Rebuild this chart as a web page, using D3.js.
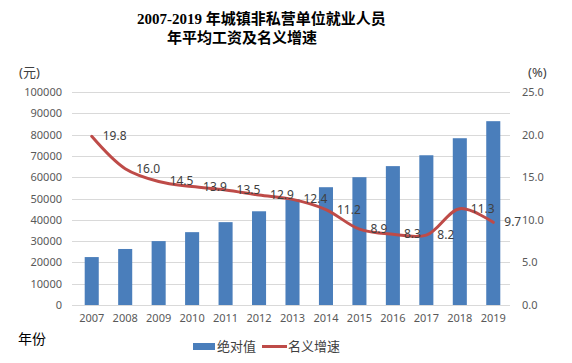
<!DOCTYPE html>
<html>
<head>
<meta charset="utf-8">
<script src="https://cdn.jsdelivr.net/npm/d3@7"></script>
<style>
  body { margin: 0; background: #fff; }
  svg text { font-family: "Noto Sans", "Noto Sans CJK SC", sans-serif; }
</style>
</head>
<body>
<div id="chart"></div>
<script>
// data
var years = ["2007","2008","2009","2010","2011","2012","2013","2014","2015","2016","2017","2018","2019"]
var wages = [22500, 26300, 30000, 34200, 38900, 44000, 49700, 55300, 60000, 65200, 70300, 78300, 86300]
var growth = [19.8, 16.0, 14.5, 13.9, 13.5, 12.9, 12.4, 11.2, 8.9, 8.3, 8.2, 11.3, 9.7]
var leftTicks = [0,10000,20000,30000,40000,50000,60000,70000,80000,90000,100000]
var rightTicks = [0,5,10,15,20,25]

var width = 572, height = 363
var margin = {top: 92, bottom: 58, left: 75, right: 62}

var svg = d3.select("#chart").append("svg")
  .attr("width", width)
  .attr("height", height)

var x = d3.scaleBand()
  .domain(years)
  .range([margin.left, width - margin.right])
  .paddingInner(0.58)
  .paddingOuter(0.29)

var y = d3.scaleLinear()
  .domain([0, 100000])
  .range([height - margin.bottom, margin.top])

var y2 = d3.scaleLinear()
  .domain([0, 25])
  .range([height - margin.bottom, margin.top])

// gridlines
svg.append("g")
  .selectAll("line")
  .data(leftTicks)
  .join("line")
  .attr("x1", margin.left - 3)
  .attr("x2", width - margin.right)
  .attr("y1", d => Math.round(y(d)) + 0.5)
  .attr("y2", d => Math.round(y(d)) + 0.5)
  .attr("stroke", "#d9d9d9")
  .attr("stroke-width", 1)

// left axis
var yAxis = svg.append("g")
  .attr("transform", `translate(${margin.left - 13},0)`)
  .call(d3.axisLeft(y).tickValues(leftTicks).tickFormat(d3.format("d")).tickSize(0).tickPadding(0))
yAxis.select(".domain").remove()
yAxis.selectAll("text").attr("font-size", "11px").attr("fill", "#595959")

// right axis
var y2Axis = svg.append("g")
  .attr("transform", `translate(${width - margin.right + 12},0)`)
  .call(d3.axisRight(y2).tickValues(rightTicks).tickFormat(d3.format(".1f")).tickSize(0).tickPadding(0))
y2Axis.select(".domain").remove()
y2Axis.selectAll("text").attr("font-size", "11px").attr("fill", "#595959")

// x axis
var xAxis = svg.append("g")
  .attr("transform", `translate(0,${height - margin.bottom + 9})`)
  .call(d3.axisBottom(x).tickSize(0).tickPadding(0))
xAxis.select(".domain").remove()
xAxis.selectAll("text").attr("font-size", "11px").attr("fill", "#595959")

// bars
svg.append("g")
  .attr("fill", "#4a7ebb")
  .selectAll("rect")
  .data(wages)
  .join("rect")
  .attr("x", (d, i) => x(years[i]))
  .attr("y", d => y(d))
  .attr("width", x.bandwidth())
  .attr("height", d => y(0) - y(d))

// growth line
var line = d3.line()
  .x((d, i) => x(years[i]) + x.bandwidth() / 2)
  .y(d => y2(d))
  .curve(d3.curveCatmullRom.alpha(0.5))

svg.append("path")
  .datum(growth)
  .attr("d", line)
  .attr("fill", "none")
  .attr("stroke", "#be4b48")
  .attr("stroke-width", 3)
  .attr("stroke-linecap", "round")

// data labels
svg.append("g")
  .selectAll("text")
  .data(growth)
  .join("text")
  .attr("x", (d, i) => x(years[i]) + x.bandwidth() / 2 + 11)
  .attr("y", d => y2(d) + 4)
  .attr("font-size", "12px")
  .attr("fill", "#404040")
  .text(d => d3.format(".1f")(d))

// titles
var title = svg.append("g")
  .attr("font-weight", "bold")
  .attr("font-size", "15px")
  .attr("fill", "#000")
title.append("text")
  .attr("x", 137).attr("y", 24)
  .style("font-family", "'Liberation Serif', 'Noto Sans CJK SC', serif")
  .text("2007-2019 年城镇非私营单位就业人员")
title.append("text")
  .attr("x", 167).attr("y", 43)
  .style("font-family", "'Liberation Serif', 'Noto Sans CJK SC', serif")
  .text("年平均工资及名义增速")

// units
svg.append("text").attr("x", 19).attr("y", 77)
  .attr("font-size", "13px").attr("fill", "#404040").text("(元)")
svg.append("text").attr("x", 528).attr("y", 77)
  .attr("font-size", "13px").attr("fill", "#404040").text("(%)")
svg.append("text").attr("x", 18).attr("y", 344)
  .attr("font-size", "14px").attr("fill", "#000").text("年份")

// legend
var legend = svg.append("g")
legend.append("rect")
  .attr("x", 193).attr("y", 343).attr("width", 22).attr("height", 7)
  .attr("fill", "#4a7ebb")
legend.append("text").attr("x", 217).attr("y", 351)
  .attr("font-size", "13px").attr("fill", "#404040").text("绝对值")
legend.append("line")
  .attr("x1", 262).attr("x2", 287).attr("y1", 346.5).attr("y2", 346.5)
  .attr("stroke", "#be4b48").attr("stroke-width", 3)
legend.append("text").attr("x", 288).attr("y", 351)
  .attr("font-size", "13px").attr("fill", "#404040").text("名义增速")
</script>
</body>
</html>
